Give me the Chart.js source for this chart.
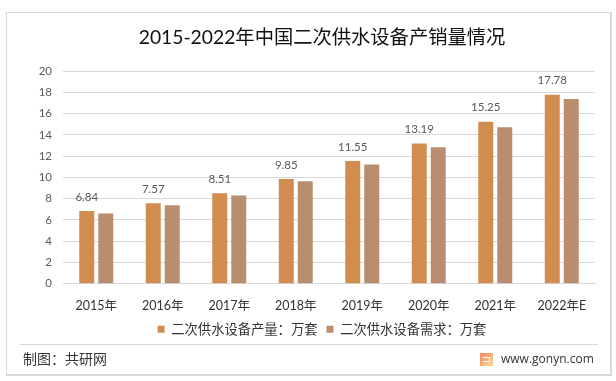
<!DOCTYPE html>
<html>
<head>
<meta charset="utf-8">
<script src="https://cdn.jsdelivr.net/npm/chart.js@4"></script>
<style>
    html, body { margin: 0; padding: 0; background: #fff; }
    #wrap { position: relative; width: 616px; height: 381px; overflow: hidden; font-family: Lato, "Noto Sans CJK SC", sans-serif; }
    #frame { position: absolute; left: 6px; top: 12px; width: 603px; height: 361px; border: 1px solid #d9d9d9; border-right-width: 2px; border-bottom-width: 2px; }
    #rule { position: absolute; left: 20px; top: 344px; width: 578px; height: 1px; background: #d9d9d9; }
    #source { position: absolute; left: 23px; top: 350px; font-size: 14px; line-height: 18px; color: #333; }
    #site { position: absolute; left: 501px; top: 350px; font-size: 12px; line-height: 18px; color: #333; font-family: "Open Sans", sans-serif; }
    #logo { position: absolute; left: 480px; top: 353px; width: 13px; height: 13px; background: linear-gradient(135deg, #f08a5a, #fbd79a); }
    #logo:after { content: ""; position: absolute; left: 3px; top: 4px; width: 7px; height: 5px; border: 1px solid #fff; border-left: 0; box-sizing: border-box; }
    canvas { position: absolute; left: 0; top: 0; }
</style>
</head>
<body>
<div id="wrap">
    <canvas id="chart" width="616" height="381"></canvas>
    <div id="frame"></div>
    <div id="rule"></div>
    <div id="source">制图：共研网</div>
    <div id="logo"></div>
    <div id="site">www.gonyn.com</div>
</div>
<script>
const titleText = '2015-2022年中国二次供水设备产销量情况';
const categories = ['2015年', '2016年', '2017年', '2018年', '2019年', '2020年', '2021年', '2022年E'];
const outputValues = [6.84, 7.57, 8.51, 9.85, 11.55, 13.19, 15.25, 17.78];
const demandValues = [6.6, 7.38, 8.3, 9.63, 11.22, 12.83, 14.72, 17.37];
const yTicks = [0, 2, 4, 6, 8, 10, 12, 14, 16, 18, 20];
const fontFamily = 'Lato, "Noto Sans CJK SC", sans-serif';

// value labels above the first series only
const barLabels = {
    id: 'barLabels',
    afterDatasetsDraw(chart) {
        const ctx = chart.ctx;
        ctx.save();
        ctx.font = '11.5px ' + fontFamily;
        ctx.fillStyle = '#595959';
        ctx.textAlign = 'center';
        ctx.textBaseline = 'middle';
        chart.getDatasetMeta(0).data.forEach((bar, i) => {
            ctx.fillText(outputValues[i].toFixed(2), bar.x, bar.y - 14);
        });
        ctx.restore();
    }
};

new Chart(document.getElementById('chart').getContext('2d'), {
    type: 'bar',
    data: {
        labels: categories,
        datasets: [
            { label: '二次供水设备产量：万套', data: outputValues, backgroundColor: '#d18d50' },
            { label: '二次供水设备需求：万套', data: demandValues, backgroundColor: '#b98e6f' }
        ]
    },
    options: {
        responsive: false,
        animation: false,
        categoryPercentage: 0.571,
        barPercentage: 0.79,
        // left padding keeps title and legend centred on x=322, the y labels hang out into it
        layout: { padding: { left: 49, right: 21, top: 0, bottom: 35 } },
        plugins: {
            title: {
                display: true,
                text: titleText,
                color: '#111',
                font: { family: fontFamily, size: 19.3, weight: 'normal' },
                padding: { top: 26, bottom: 22 }
            },
            legend: {
                position: 'bottom',
                labels: {
                    color: '#333',
                    font: { family: fontFamily, size: 13.3 },
                    boxWidth: 7,
                    boxHeight: 7,
                    padding: 9
                }
            },
            tooltip: { enabled: false }
        },
        scales: {
            x: {
                afterFit(axis) { axis.height = 30; },
                grid: { display: false },
                border: { color: '#d9d9d9' },
                ticks: { color: '#333', font: { family: fontFamily, size: 12.5 }, padding: 7, maxRotation: 0 }
            },
            y: {
                min: 0,
                max: 20,
                afterBuildTicks(axis) { axis.ticks = yTicks.map(v => ({ value: v })); },
                afterFit(axis) {
                    axis.width = 14;
                    // labels sit outside the narrow axis box, so no clipping
                    axis._computeLabelArea = () => null;
                },
                grid: { color: '#d9d9d9', drawTicks: false },
                border: { display: false },
                ticks: { color: '#595959', font: { family: fontFamily, size: 11.5 }, padding: 11 }
            }
        }
    },
    plugins: [barLabels]
});
</script>
</body>
</html>
